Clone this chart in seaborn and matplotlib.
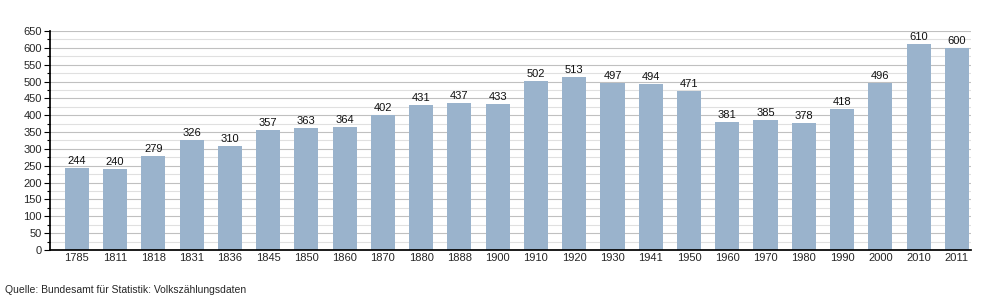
import matplotlib
matplotlib.use("Agg")
import matplotlib.pyplot as plt
import seaborn as sns
import pandas as pd
from matplotlib.ticker import MultipleLocator

years = ["1785", "1811", "1818", "1831", "1836", "1845", "1850", "1860", "1870", "1880",
         "1888", "1900", "1910", "1920", "1930", "1941", "1950", "1960", "1970", "1980",
         "1990", "2000", "2010", "2011"]
population = [244, 240, 279, 326, 310, 357, 363, 364, 402, 431,
              437, 433, 502, 513, 497, 494, 471, 381, 385, 378,
              418, 496, 610, 600]

df = pd.DataFrame({"Jahr": years, "Einwohner": population})

sns.set_theme(style="white")
plt.rcParams['font.family'] = ['Liberation Sans', 'DejaVu Sans']

fig = plt.figure(figsize=(10, 3), dpi=100)
ax = fig.add_axes([0.05, 0.1667, 0.921, 0.73])

ax.yaxis.set_major_locator(MultipleLocator(50))
ax.yaxis.set_minor_locator(MultipleLocator(25))
ax.grid(axis="y", which="major", color="#c0c0c0", linewidth=0.8)
ax.grid(axis="y", which="minor", color="#e0e0e0", linewidth=0.8)
ax.set_axisbelow(True)

sns.barplot(data=df, x="Jahr", y="Einwohner", color="#9ab3cc", saturation=1,
            width=0.63, linewidth=0, ax=ax)

for i, v in enumerate(population):
    ax.text(i, v + 6, str(v), ha="center", va="bottom", fontsize=8, color="#111111")

ax.set_ylim(0, 650)
ax.set_xlim(-0.7, 23.37)
ax.set_xlabel("")
ax.set_ylabel("")
for s in ["top", "right"]:
    ax.spines[s].set_visible(False)
ax.spines["left"].set_color("black")
ax.spines["bottom"].set_color("black")
ax.tick_params(axis="y", which="major", left=True, length=4, width=0.8, labelsize=8, pad=2, color="black")
ax.tick_params(axis="y", which="minor", left=True, length=2, width=0.8, color="black")
ax.tick_params(axis="x", bottom=False, length=0, labelsize=8, pad=2)

fig.text(0.005, 0.033, "Quelle: Bundesamt für Statistik: Volkszählungsdaten", fontsize=7.5, ha="left", va="center")

fig.savefig("out.png", dpi=100)
